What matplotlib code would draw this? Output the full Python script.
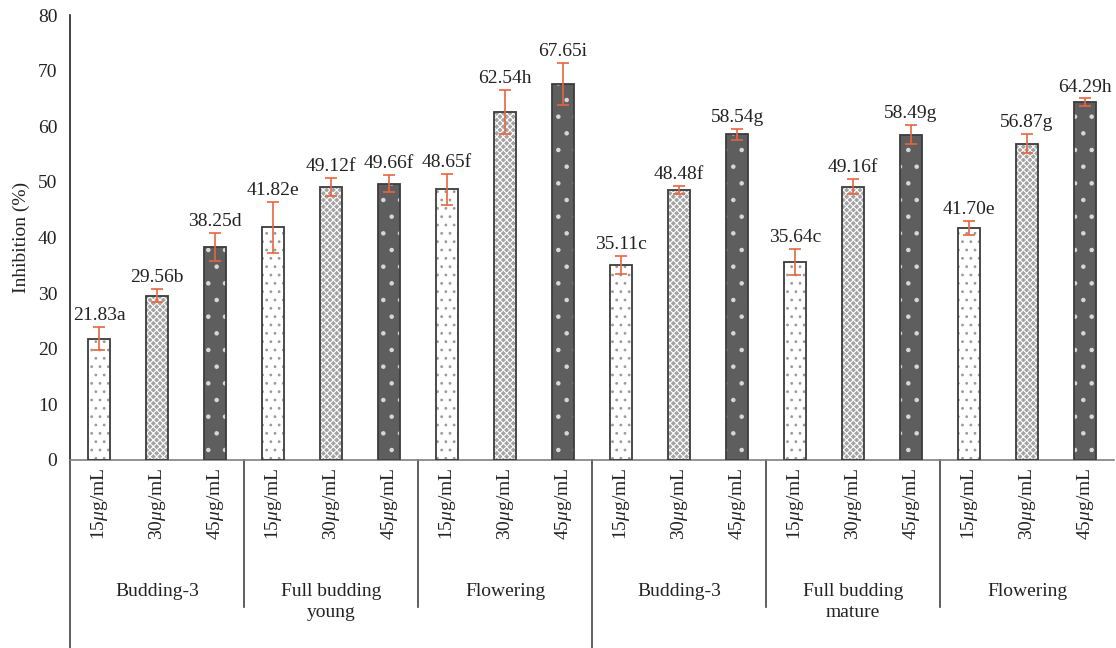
import matplotlib
matplotlib.use("Agg")
import matplotlib.pyplot as plt
import matplotlib.transforms as mtransforms
import numpy as np

plt.rcParams['font.family'] = ['Liberation Serif', 'DejaVu Serif']
plt.rcParams['mathtext.fontset'] = 'custom'
plt.rcParams['mathtext.rm'] = 'Liberation Serif'
plt.rcParams['mathtext.it'] = 'Liberation Serif:italic'
plt.rcParams['hatch.linewidth'] = 0.8

# ---- data ----
groups = ['Budding-3', 'Full budding\nyoung', 'Flowering',
          'Budding-3', 'Full budding\nmature', 'Flowering']
concentrations = [r'15$\mathit{\mu}$g/mL', r'30$\mathit{\mu}$g/mL', r'45$\mathit{\mu}$g/mL']
values = [21.83, 29.56, 38.25, 41.82, 49.12, 49.66, 48.65, 62.54, 67.65,
          35.11, 48.48, 58.54, 35.64, 49.16, 58.49, 41.70, 56.87, 64.29]
errors = [2.1, 1.2, 2.5, 4.6, 1.6, 1.5, 2.8, 4.0, 3.8,
          1.6, 0.7, 1.0, 2.3, 1.3, 1.7, 1.3, 1.7, 0.7]
letters = ['a', 'b', 'd', 'e', 'f', 'f', 'f', 'h', 'i',
           'c', 'f', 'g', 'c', 'f', 'g', 'e', 'g', 'h']
yticks = [0, 10, 20, 30, 40, 50, 60, 70, 80]

# ---- styles ----
face = ['#ffffff', '#a3a3a3', '#5e5e5e']
hatchc = ['#9a9a9a', '#ffffff', '#d8d8d8']
hatches = ['..', 'xxxxx', '.']
edge = '#3c3c3c'
errc = '#e8653f'
txt = '#222222'
fs = 14

fig = plt.figure(figsize=(11.16, 6.48), dpi=100)
ax = fig.add_axes([70/1116, 1-460/648, 1044/1116, 445/648])

n = len(values)
x = np.arange(n)
w = 0.38
for i in range(n):
    k = i % 3
    ax.bar(x[i], values[i], w, color=face[k], hatch=hatches[k],
           edgecolor=hatchc[k], linewidth=0, zorder=2)
    ax.bar(x[i], values[i], w, fill=False, edgecolor=edge, linewidth=1.3, zorder=3)
ax.errorbar(x, values, yerr=errors, fmt='none', ecolor=errc, elinewidth=1.2,
            capsize=4, capthick=1.2, zorder=4)
for i in range(n):
    ax.annotate(f'{values[i]:.2f}{letters[i]}', (x[i], values[i] + errors[i]),
                xytext=(0, 5), textcoords='offset points', ha='center',
                va='baseline', fontsize=fs, color=txt)

ax.set_xlim(-0.5, n - 0.5)
ax.set_ylim(0, 80)
ax.set_yticks(yticks)
ax.tick_params(axis='y', length=0, pad=9, labelsize=fs, labelcolor=txt)
ax.set_xticks([])
ax.set_ylabel('Inhibition (%)', fontsize=fs, color=txt, labelpad=6)
for s in ['top', 'right']:
    ax.spines[s].set_visible(False)
ax.spines['left'].set_color('#222222')
ax.spines['left'].set_linewidth(1.2)
ax.spines['bottom'].set_color('#808080')
ax.spines['bottom'].set_linewidth(1.2)

trans = mtransforms.blended_transform_factory(ax.transData, ax.transAxes)
for i in range(n):
    ax.text(x[i], -0.018, concentrations[i % 3], rotation=90, ha='center',
            va='top', fontsize=fs, color=txt, transform=trans)
for g, name in enumerate(groups):
    ax.text(3 * g + 1, -0.276, name, ha='center', va='top', fontsize=fs,
            linespacing=1.35, color=txt, transform=trans)
# separators
for b in range(0, 6):
    xb = 3 * b - 0.5
    y0 = -188/445 if b in (0, 3) else -147/445
    ax.plot([xb, xb], [0, y0], color='#444444', lw=1.2, transform=trans, clip_on=False)

fig.savefig('out.png', dpi=100)
